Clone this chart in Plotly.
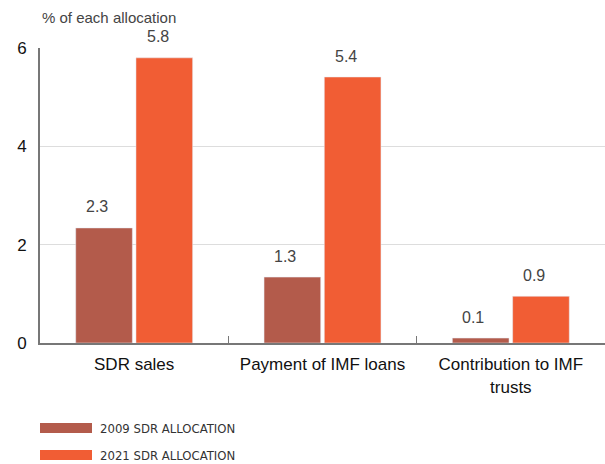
import plotly.graph_objects as go

categories = ["SDR sales", "Payment of IMF loans", "Contribution to IMF<br>trusts"]
series_names = ["2009 SDR ALLOCATION", "2021 SDR ALLOCATION"]
values_2009 = [2.34, 1.34, 0.1]
values_2021 = [5.8, 5.41, 0.95]
labels_2009 = ["2.3", "1.3", "0.1"]
labels_2021 = ["5.8", "5.4", "0.9"]
colors = ["#B35B4B", "#F15D34"]

W, H = 605, 464
ML, MR, MT, MB = 40, 0, 48, 121
plot_w = W - ML - MR
plot_h = H - MT - MB

fig = go.Figure()
series = [values_2009, values_2021]
labels = [labels_2009, labels_2021]
for idx, (name, vals, labs, col) in enumerate(zip(series_names, series, labels, colors)):
    fig.add_trace(go.Bar(x=categories, y=vals, name=name, marker_color=col,
                         showlegend=False, hoverinfo="skip"))
    # value labels sit higher above the bars (and a touch left) as in the original
    for cat, v, lab in zip(categories, vals, labs):
        fig.add_annotation(x=cat, y=v, text=lab, showarrow=False,
                           xshift=(idx - 0.5) * 61 - 7, yshift=21,
                           yanchor="middle", font=dict(size=16, color="#444444"))

# legend drawn as wide swatches like the original
for idx, (name, col) in enumerate(zip(series_names, colors)):
    yc = 428 + idx * 27
    fig.add_shape(type="rect", xref="paper", yref="paper",
                  x0=0, x1=52 / plot_w,
                  y0=(H - MB - yc - 5) / plot_h, y1=(H - MB - yc + 5) / plot_h,
                  fillcolor=col, line_width=0)
    fig.add_annotation(xref="paper", yref="paper", x=58 / plot_w,
                       y=(H - MB - yc) / plot_h, text=name, showarrow=False,
                       xanchor="left", yanchor="middle",
                       font=dict(family="DejaVu Sans Condensed", size=13, color="#333333"))

fig.add_annotation(xref="paper", yref="paper", x=0, y=1, yshift=20,
                   text="% of each allocation", showarrow=False,
                   xanchor="left", yanchor="bottom",
                   font=dict(size=15, color="#444444"))

fig.update_layout(
    width=W, height=H,
    margin=dict(l=ML, r=MR, t=MT, b=MB, autoexpand=False),
    paper_bgcolor="white", plot_bgcolor="white",
    font=dict(family="Liberation Sans, Arial", size=17, color="#111111"),
    barmode="group", bargap=0.36, bargroupgap=0.06,
)
fig.update_xaxes(showline=True, linecolor="#777777", linewidth=2, automargin=False,
                 ticks="inside", tickson="boundaries", ticklen=7, tickcolor="#777777",
                 tickfont=dict(size=17, color="#111111"), showgrid=False,
                 ticklabelstandoff=5)
fig.update_yaxes(range=[0, 6], tickvals=[0, 2, 4, 6], showline=True, automargin=False,
                 linecolor="#777777", linewidth=2, showgrid=True,
                 gridcolor="#dddddd", gridwidth=1, zeroline=False,
                 tickfont=dict(size=17, color="#111111"), ticks="", ticklabelstandoff=8)

fig.write_html("out.html", config={"displayModeBar": False},
               post_script="document.body.style.margin='0';")
